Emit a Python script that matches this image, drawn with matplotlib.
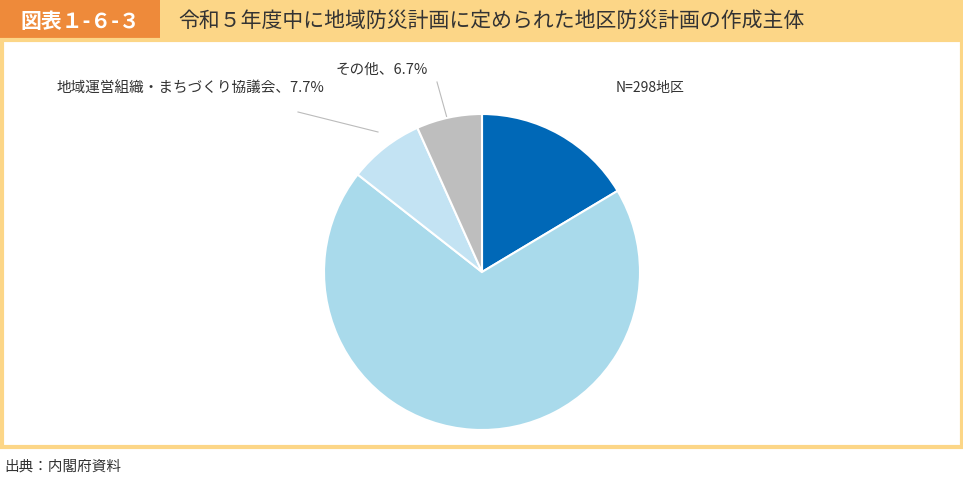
import matplotlib.pyplot as plt
from matplotlib.patches import Rectangle

plt.rcParams['font.family'] = 'Noto Sans CJK JP'

# Data
labels = ['自治会・町内会', '自主防災組織', '地域運営組織・まちづくり協議会', 'その他']
shares = [16.4, 69.1, 7.7, 6.7]
colors = ['#0068B7', '#A9DAEB', '#C3E3F3', '#BEBEBE']
title = '令和５年度中に地域防災計画に定められた地区防災計画の作成主体'
fig_no = '図表１-６-３'
note = 'N=298地区'
source = '出典：内閣府資料'

W, H = 963, 483
fig = plt.figure(figsize=(W / 100, H / 100), dpi=100)

# background layer in pixel coords
bg = fig.add_axes([0, 0, 1, 1])
bg.set_xlim(0, W)
bg.set_ylim(H, 0)
bg.axis('off')
bg.add_patch(Rectangle((0, 0), W, 40, color='#FCD687', lw=0))
bg.add_patch(Rectangle((0, 0), 160, 40, color='#EE8A3A', lw=0))
bg.add_patch(Rectangle((1.5, 40), W - 3, 407, fill=False, ec='#FCD687', lw=3))
bg.text(80, 21, fig_no, color='white', fontsize=15, fontweight='bold', ha='center', va='center')
bg.text(178, 21, title, color='#333333', fontsize=15, ha='left', va='center')
bg.text(4, 467, source, color='#333333', fontsize=10.5, ha='left', va='center')
bg.text(650, 88, note, color='#333333', fontsize=10, ha='center', va='center')

# pie, center (482, 272), radius 158 px
r = 158
ax = fig.add_axes([(482 - r) / W, (H - 272 - r) / H, 2 * r / W, 2 * r / H])
ax.pie(shares, colors=colors, startangle=90, counterclock=False, radius=1,
       wedgeprops=dict(edgecolor='white', linewidth=1.5))
ax.set_xlim(-1, 1)
ax.set_ylim(-1, 1)
ax.set_aspect('equal')

bg.text(542, 182, f'{labels[0]}\n{shares[0]}%', color='white', fontsize=10.5,
        ha='center', va='center', linespacing=1.6)
bg.text(485, 343, f'{labels[1]}、{shares[1]}%', color='#333333', fontsize=10.5,
        ha='center', va='center')
bg.text(190, 88, f'{labels[2]}、{shares[2]}%', color='#333333', fontsize=10.5,
        ha='center', va='center')
bg.plot([298, 378], [112, 132], color='#BBBBBB', lw=0.8)
bg.text(382, 70, f'{labels[3]}、{shares[3]}%', color='#333333', fontsize=10.5,
        ha='center', va='center')
bg.plot([437, 447], [82, 118], color='#BBBBBB', lw=0.8)

fig.savefig('out.png', dpi=100)
